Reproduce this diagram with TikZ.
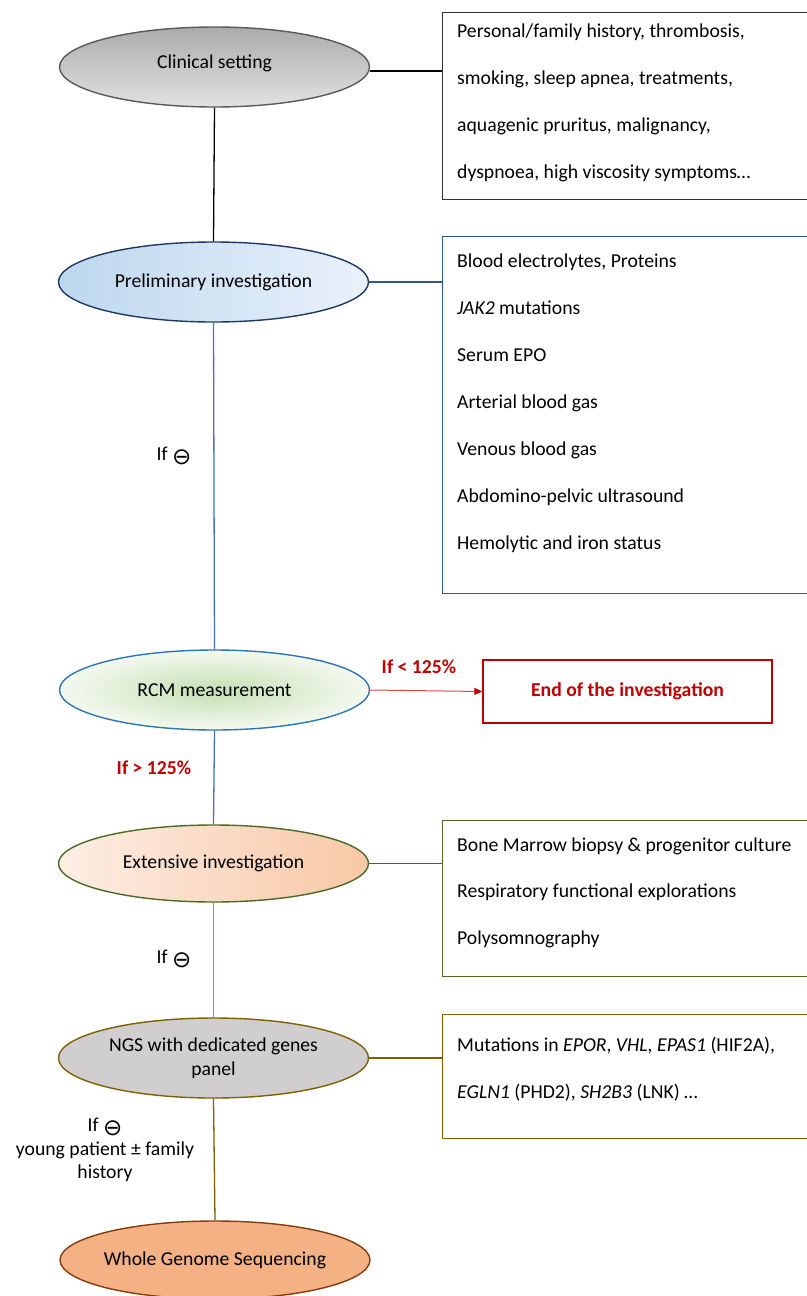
\documentclass[tikz,border=0pt]{standalone}
\usepackage{fontspec}
\setmainfont{Carlito}
\newfontfamily\djv{DejaVu Sans}
\usetikzlibrary{shapes.geometric,arrows.meta}
\definecolor{clinTop}{HTML}{ABABAB}
\definecolor{clinBot}{HTML}{E2E2E2}
\definecolor{clinDraw}{HTML}{595959}
\definecolor{preL}{HTML}{BDD7EE}
\definecolor{preR}{HTML}{EAF1FB}
\definecolor{preDraw}{HTML}{1F3864}
\definecolor{boxBlue}{HTML}{2F5597}
\definecolor{lineBlue}{HTML}{4472C4}
\definecolor{rcmIn}{HTML}{C5E0B4}
\definecolor{rcmOut}{HTML}{F3F9EF}
\definecolor{rcmDraw}{HTML}{2E75B6}
\definecolor{extL}{HTML}{FDEEE5}
\definecolor{extR}{HTML}{F8C8A6}
\definecolor{darkGreen}{HTML}{4A6B26}
\definecolor{lineGreen}{HTML}{70AD47}
\definecolor{ngsFill}{HTML}{D0CECE}
\definecolor{olive}{HTML}{7F6000}
\definecolor{wgsFill}{HTML}{F4B183}
\definecolor{wgsDraw}{HTML}{843C0C}
\definecolor{endRed}{HTML}{C00000}
\definecolor{arrowRed}{HTML}{E04848}
\newcommand{\minuscirc}{\raisebox{-4pt}{\djv\fontsize{23}{23}\selectfont ⊖}}
\begin{document}
\begin{tikzpicture}[x=1pt,y=-1pt,
  every node/.style={font=\fontsize{19.7}{23.7}\selectfont},
  ell/.style={ellipse, draw, line width=1.4pt, minimum width=310pt, minimum height=80pt, inner sep=0pt, align=center},
  infobox/.style={draw, line width=1.4pt, rectangle, anchor=north west, inner sep=0pt, minimum width=380pt},
  ln/.style={anchor=base west, inner sep=0pt},
  cond/.style={font=\fontsize{19.7}{23.7}\selectfont\bfseries, text=endRed, inner sep=0pt},
  note/.style={inner sep=0pt, align=center},
  conn/.style={line width=1.3pt}]
\useasboundingbox (0,0) rectangle (806,1296);

% ellipses
\node[ell, draw=clinDraw, top color=clinTop, bottom color=clinBot] (clin) at (214.5,67) {};
\node at (214.5,63) (clint) {Clinical setting};
\node[ell, draw=preDraw, left color=preL, right color=preR] (pre) at (213.5,282) {Preliminary investigation};
\node[ell, draw=rcmDraw, shading=radial, inner color=rcmIn, outer color=rcmOut] (rcm) at (214.5,690) {RCM measurement};
\node[ell, draw=darkGreen, left color=extL, right color=extR, minimum height=77pt] (ext) at (213.5,863.5) {Extensive investigation};
\node[ell, draw=olive, fill=ngsFill] (ngs) at (213.5,1058) {NGS with dedicated genes\\panel};
\node[ell, draw=wgsDraw, fill=wgsFill, minimum height=78pt, inner xsep=-12pt] (wgs) at (215,1260) {Whole Genome Sequencing};

% boxes
\node[infobox, draw=black!80, minimum height=187pt] (b1) at (442,12) {};
\node[infobox, draw=boxBlue, minimum height=357pt] (b2) at (442,236) {};
\node[infobox, draw=darkGreen, minimum height=156pt] (b3) at (442,820) {};
\node[infobox, draw=olive, minimum height=124pt] (b4) at (442,1014) {};
\node[draw=endRed, line width=1.4pt, minimum width=289pt, minimum height=63pt, inner sep=0pt,
      font=\fontsize{19.7}{23.7}\selectfont\bfseries, text=endRed] (end) at (627.5,691.5) {End of the investigation};

% box texts
\node[ln] (t11) at (457,37) {Personal/family history, thrombosis,};
\node[ln] (t12) at (457,84) {smoking, sleep apnea, treatments,};
\node[ln] (t13) at (457,131) {aquagenic pruritus, malignancy,};
\node[ln] (t14) at (457,178) {dyspnoea, high viscosity symptoms…};

\node[ln] (t21) at (457,267) {Blood electrolytes, Proteins};
\node[ln] (t22) at (457,314) {\textit{JAK2} mutations};
\node[ln] (t23) at (457,361) {Serum EPO};
\node[ln] (t24) at (457,408) {Arterial blood gas};
\node[ln] (t25) at (457,455) {Venous blood gas};
\node[ln] (t26) at (457,502) {Abdomino-pelvic ultrasound};
\node[ln] (t27) at (457,549) {Hemolytic and iron status};

\node[ln] (t31) at (457,851) {Bone Marrow biopsy \& progenitor culture};
\node[ln] (t32) at (457,897) {Respiratory functional explorations};
\node[ln] (t33) at (457,944) {Polysomnography};

\node[ln] (t41) at (457,1051) {Mutations in \textit{EPOR}, \textit{VHL, EPAS1} (HIF2A),};
\node[ln] (t42) at (457,1098) {\textit{EGLN1} (PHD2), \textit{SH2B3} (LNK) …};

% vertical connectors
\draw[conn, black] (clin.south) -- (pre.north);
\draw[conn, lineBlue] (pre.south) -- (rcm.north);
\draw[conn, lineBlue] (rcm.south) -- (ext.north);
\draw[conn, lineGreen] (ext.south) -- (ngs.north);
\draw[conn, olive] (ngs.south) -- (wgs.north);

% horizontal connectors
\draw[conn, black] (clin.east |- 0,71) coordinate (c1) -- (c1 -| b1.west);
\draw[conn, boxBlue] (pre.east) -- (pre.east -| b2.west);
\draw[conn, darkGreen] (ext.east) -- (ext.east -| b3.west);
\draw[conn, olive] (ngs.east) -- (ngs.east -| b4.west);
\draw[arrowRed, line width=1pt, -{Triangle[length=8pt,width=7pt,color=endRed]}] (rcm.east) -- (end.west);

% labels
\node[cond] (lt) at (419,667) {If < 125\%};
\node[cond] (gt) at (154,768) {If > 125\%};
\node[note] (if1) at (174,456) {If \minuscirc};
\node[note] (if2) at (174,959) {If \minuscirc};
\node[note] (if3) at (105,1150) {If \minuscirc\\young patient ± family\\history};
\end{tikzpicture}
\end{document}
